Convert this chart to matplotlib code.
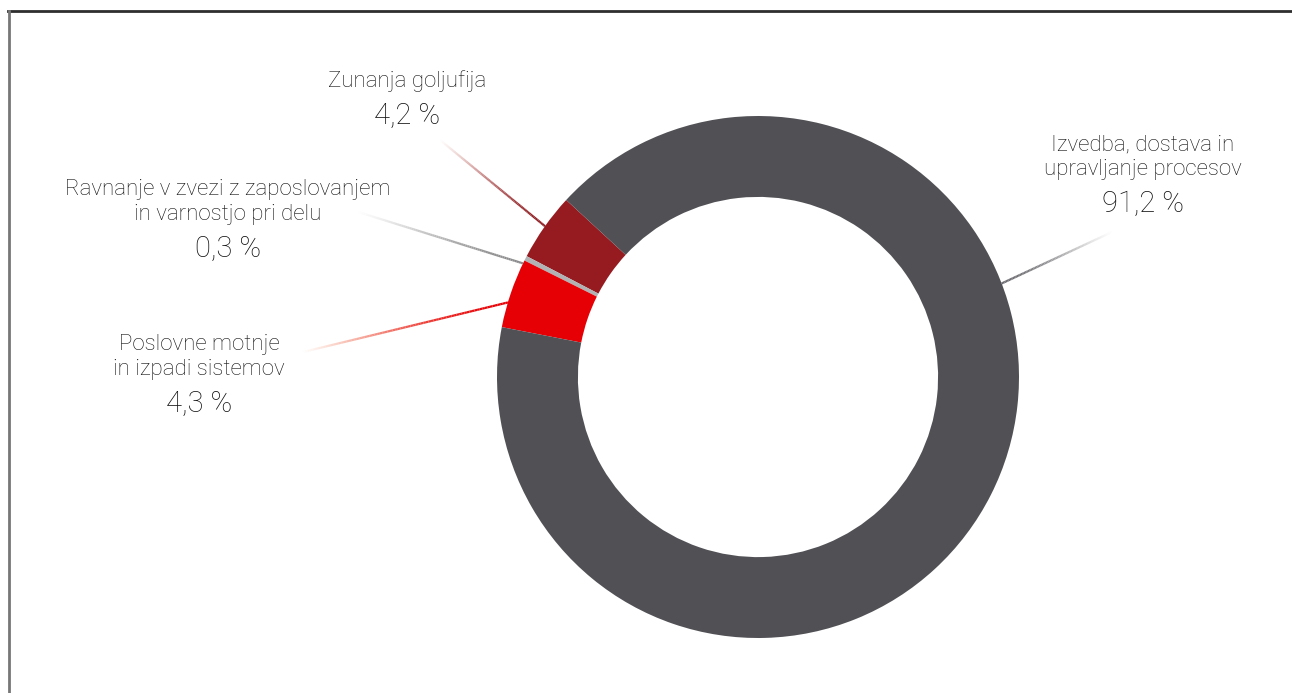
import numpy as np
import matplotlib.pyplot as plt
from matplotlib.collections import LineCollection
from matplotlib.colors import to_rgba

plt.rcParams['font.family'] = ['Roboto', 'DejaVu Sans']

# shares of operational risk loss events, %
names = ['Zunanja goljufija',
         'Ravnanje v zvezi z zaposlovanjem\nin varnostjo pri delu',
         'Poslovne motnje\nin izpadi sistemov',
         'Izvedba, dostava in\nupravljanje procesov']
shares = [4.2, 0.3, 4.3, 91.2]
colors = ['#961B20', '#B1B2B4', '#E60005', '#515055']

W, H = 1292, 693
cx, cy, R = 758, 316, 261

fig = plt.figure(figsize=(W / 100, H / 100), dpi=100, facecolor='white')
ax = fig.add_axes((0, 0, 1, 1))
ax.pie(shares, colors=colors, radius=R, center=(cx, cy), startangle=137.3,
       counterclock=True, wedgeprops=dict(width=R * 0.31, linewidth=0))
ax.set_xlim(0, W)
ax.set_ylim(0, H)
ax.set_aspect('equal')
ax.axis('off')


def fade_line(ang, end, c0, c1, n=80):
    # leader line from the ring edge, fading out towards the label
    a = np.radians(ang)
    x0, y0 = cx + R * np.cos(a), cy + R * np.sin(a)
    t = np.linspace(0, 1, n + 1)
    xs = x0 + (end[0] - x0) * t
    ys = y0 + (end[1] - y0) * t
    segs = np.stack([np.column_stack([xs[:-1], ys[:-1]]),
                     np.column_stack([xs[1:], ys[1:]])], axis=1)
    r0, r1 = np.array(to_rgba(c0)), np.array(to_rgba(c1))
    tm = ((t[:-1] + t[1:]) / 2)[:, None]
    cols = r0 * (1 - tm ** 1.5) + r1 * tm ** 1.5
    cols[:, 3] = 1 - tm[:, 0] ** 2.5
    ax.add_collection(LineCollection(segs, colors=cols, linewidths=1.6,
                                     capstyle='butt'))


fade_line(144.7, (440, H - 140), '#8E1A1F', '#E8B8B0')
fade_line(154.2, (358, H - 212), '#8A8A8C', '#E0E0E0')
fade_line(163.4, (303, H - 352), '#E60005', '#F8A880')
fade_line(21.0, (1112, H - 232), '#6A696E', '#D8D8D8')

# text centre x, baseline of the last name line
label_pos = [(407, 87), (228, 220), (199, 375), (1143, 175)]
for name, val, (tx, ty) in zip(names, shares, label_pos):
    ax.text(tx, H - ty, name, ha='center', va='baseline', fontsize=16,
            color='#111111', linespacing=1.22, fontweight='light')
    ax.text(tx, H - ty - 37, f'{val:.1f} %'.replace('.', ','), ha='center',
            va='baseline', fontsize=21, color='#111111', fontweight='light')

# frame at top and left
fig.add_artist(plt.Line2D([8 / W, 1], [1 - 11 / H, 1 - 11 / H],
                          color='#2E2E2E', lw=2))
fig.add_artist(plt.Line2D([9 / W, 9 / W], [0, 1 - 11 / H],
                          color='#777777', lw=2))

fig.savefig('out.png', dpi=100, facecolor='white')
